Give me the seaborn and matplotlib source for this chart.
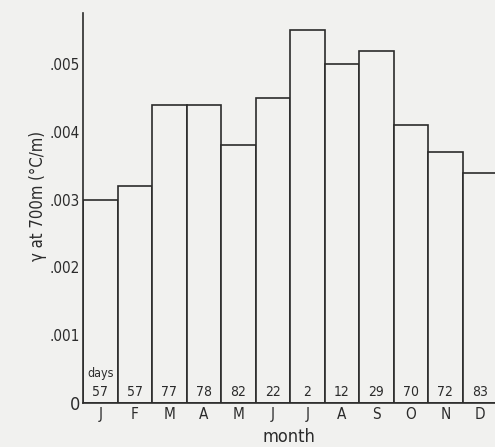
import matplotlib
matplotlib.use("Agg")
import matplotlib.pyplot as plt
import seaborn as sns
import pandas as pd

# Monthly mean lapse rate at 700 m and number of sounding days
months = ["Jan", "Feb", "Mar", "Apr", "May", "Jun",
          "Jul", "Aug", "Sep", "Oct", "Nov", "Dec"]
month_letters = ["J", "F", "M", "A", "M", "J", "J", "A", "S", "O", "N", "D"]
gamma = [0.0030, 0.0032, 0.0044, 0.0044, 0.0038, 0.0045,
         0.0055, 0.0050, 0.0052, 0.0041, 0.0037, 0.0034]
days = [57, 57, 77, 78, 82, 22, 2, 12, 29, 70, 72, 83]
ytick_vals = [0, 0.001, 0.002, 0.003, 0.004, 0.005]
ytick_labels = ["0", ".001", ".002", ".003", ".004", ".005"]

df = pd.DataFrame({"month": months, "gamma": gamma, "days": days})

sns.set_theme(style="white")
plt.rcParams["font.family"] = ["DejaVu Sans"]
plt.rcParams["font.stretch"] = "condensed"

bg = "#f1f1ef"
ink = "#2b2b2b"

fig = plt.figure(figsize=(4.95, 4.47), dpi=100, facecolor=bg)
ax = fig.add_axes([0.1677, 0.0984, 0.8323, 0.872])
ax.set_facecolor(bg)

sns.barplot(data=df, x="month", y="gamma", order=months, width=1.0,
            color=bg, edgecolor=ink, linewidth=1.2, saturation=1, ax=ax)

# day counts inside each bar
for i, d in enumerate(days):
    ax.text(i, 0.00016, str(d), ha="center", va="center",
            fontsize=10, color=ink)
ax.text(0, 0.00043, "days", ha="center", va="center", fontsize=9, color=ink)

ax.set_xlim(-0.5, 11.44)
ax.set_ylim(0, 0.00575)
ax.set_yticks(ytick_vals)
ax.set_yticklabels(ytick_labels)
ax.set_xticks(range(len(months)))
ax.set_xticklabels(month_letters)

for s in ["top", "right"]:
    ax.spines[s].set_visible(False)
for s in ["left", "bottom"]:
    ax.spines[s].set_color(ink)
    ax.spines[s].set_linewidth(1.2)

ax.tick_params(axis="y", direction="in", length=6, width=1.0, color=ink,
               labelsize=11, labelcolor=ink, pad=2)
ax.tick_params(axis="x", length=0, labelsize=11, labelcolor=ink, pad=3)
ax.yaxis.get_ticklabels()[0].set_fontsize(13)

ax.set_xlabel("month", fontsize=13, color=ink)
ax.xaxis.set_label_coords(0.5, -0.065)
ax.set_ylabel("γ at 700m (°C/m)", fontsize=12, color=ink)
ax.yaxis.set_label_coords(-0.088, 0.53)

fig.savefig("out.png", dpi=100, facecolor=bg)
